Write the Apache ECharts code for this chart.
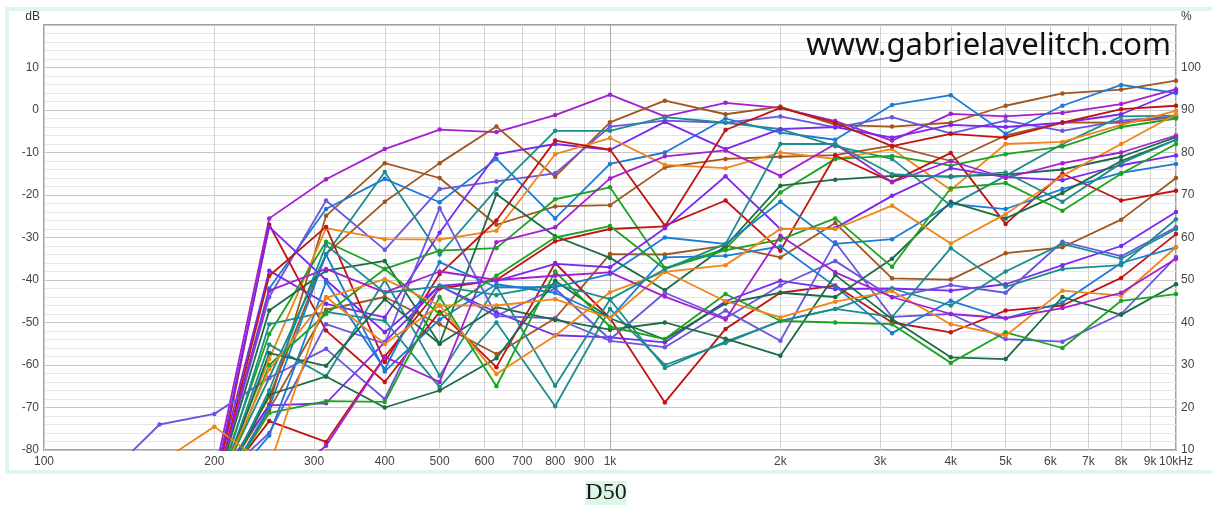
<!DOCTYPE html>
<html><head><meta charset="utf-8">
<script src="https://cdn.jsdelivr.net/npm/echarts@6/dist/echarts.min.js"></script>
<style>html,body{margin:0;padding:0;background:#fff;}#c{width:1212px;height:506px;}</style>
</head><body><div id="c"></div>
<script>
// Frequencies (Hz) of the 1/3-octave measurement points
const freqs = [125,160,200,250,315,400,500,630,800,1000,1250,1600,2000,2500,3150,4000,5000,6300,8000,10000];
// X tick labels (Hz)
const xTickValues = [100,200,300,400,500,600,700,800,900,1000,2000,3000,4000,5000,6000,7000,8000,9000,10000];
// Y ticks
const yMin = -80, yMax = 20, yStep = 10;
const pMin = 10, pMax = 110;

// Series values (dB) at each frequency
const s01 = [-100,-96,-86,-25.5,-16.3,-9.2,-4.6,-5.2,-1.2,3.6,-1.5,1.7,0.5,-2.6,-7.2,-0.9,-1.5,-0.7,1.4,4.9];
const s02 = [-100,-97,-90,-67.5,-33.9,-21.6,-12.5,-3.9,-15.7,-2.9,2.2,-1,0.8,-3.5,-3.9,-3,1,3.9,4.8,6.9];
const s03 = [-100,-97,-90,-69.2,-24.9,-12.5,-16,-27,-22.7,-22.4,-13.5,-11.5,-11,-10.6,-8.4,-12,-6,-2.9,-3,-1.7];
const s04 = [-100,-98,-92,-70.5,-47,-44,-50.4,-57.4,-49,-33.9,-34,-31.9,-34.7,-26.6,-39.6,-39.9,-33.7,-32.3,-25.8,-16];
const s05 = [-100,-96,-90,-42,-23.3,-16.2,-21.7,-11.5,-25.5,-12.7,-10,-2,-5.3,-7,1.2,3.5,-5.6,1,5.9,4];
const s06 = [-100,-95,-90,-44,-21.3,-32.9,-18.6,-16.8,-14.9,-3.9,-2.5,-3,-1.5,-4.1,-1.7,-5.5,-2.5,-4.9,-2.5,-1.5];
const s07 = [-100,-96,-90,-63,-34,-14.6,-34,-18.6,-4.9,-4.9,-1.7,-3,-4.5,-8.5,-11.5,-22.5,-15.5,-8,-1.5,-1.3];
const s08 = [-100,-95,-88,-37.8,-45.6,-48.8,-28.9,-10.4,-8,-9.4,-2.8,-9.2,-4.5,-4,-6.5,-3.5,-4,-3,-1,4.3];
const s09 = [-100,-96,-90,-58.6,-27.8,-30.4,-30.5,-28.4,-10.4,-6.6,-12.9,-13.7,-10,-11.5,-9.2,-18.8,-8,-7.5,-3.5,-0.2];
const s10 = [-100,-96,-90,-52.7,-31,-37.4,-33.1,-32.5,-21,-18.2,-37.2,-32.7,-19.4,-11.5,-10.8,-13.1,-10.4,-8.6,-4,-2];
const s11 = [-100,-96,-90,-47.2,-37.8,-35.5,-55,-19.8,-29.7,-34.8,-42.4,-32,-17.8,-16.4,-15.5,-15.6,-15.2,-14,-11,-6.4];
const s12 = [-100,-96,-90,-27,-51.9,-64,-47.5,-60.5,-36,-49,-68.8,-51.5,-43,-41.3,-50,-52.3,-47.2,-46,-39.5,-29.2];
const s13 = [-100,-96,-90,-39,-27.5,-59.3,-38.6,-26,-7.2,-9.3,-27.2,-21.3,-33.1,-10.7,-16.9,-10.1,-26.8,-15,-21.3,-19];
const s14 = [-100,-97,-90,-73.2,-78.1,-58,-42,-40,-30.9,-28,-27.4,-4.7,0.5,-3,-8.5,-5.6,-6.5,-3,0.2,1];
const s15 = [-100,-95,-88,-27.5,-40,-52.3,-41.4,-40.2,-36.2,-37,-27.8,-15.6,-28,-27.8,-20.2,-13.7,-15.8,-16.5,-13,-10.7];
const s16 = [-100,-95,-88,-69.5,-69,-54.6,-41.4,-47.6,-53,-53.5,-54.7,-45,-40.2,-42.1,-42,-42.5,-41,-36.5,-32,-24];
const s17 = [-88,-74,-71.5,-63,-56.2,-68,-41.3,-48.5,-49,-54.3,-55.8,-47.2,-54.3,-31.1,-48.7,-48,-53.9,-54.5,-48,-34.6];
const s18 = [-100,-95,-88,-76,-50.4,-55,-23.1,-48.4,-42,-54,-43,-49,-41.3,-35.5,-44.1,-41.2,-43,-31,-34.4,-27.6];
const s19 = [-100,-96,-92,-76.6,-40.5,-61,-35.8,-41.7,-41.7,-38.6,-30,-31.5,-21.6,-31.5,-30.4,-22.1,-23.3,-18.6,-14.8,-12.7];
const s20 = [-100,-97,-92,-70,-34,-61.5,-49.3,-41,-43,-49,-34.7,-34.3,-32.1,-41.5,-52.5,-44.9,-49,-45.3,-36,-32.3];
const s21 = [-100,-96,-92,-55.2,-62.7,-40,-62.5,-41.5,-64.9,-44.6,-60.7,-54.5,-49.7,-46.8,-48.7,-32.5,-41.6,-37.4,-36.5,-25.7];
const s22 = [-100,-96,-92,-50.4,-47.5,-49.6,-65.2,-50,-69.7,-46.8,-60,-54.8,-49.6,-46.8,-42,-46,-38,-31.5,-35,-28];
const s23 = [-100,-96,-92,-57.2,-60.2,-44.5,-55,-46.4,-49.4,-51.7,-50,-53.8,-57.8,-38.8,-49.2,-58.2,-58.6,-44,-48.2,-41];
const s24 = [-100,-96,-92,-67,-62.7,-70,-66,-58.4,-40.2,-49,-54,-45.5,-43,-44,-35,-21.6,-25.5,-19.5,-12,-7];
const s25 = [-100,-96,-92,-71.3,-68.5,-68.7,-44,-65,-38,-51,-53.9,-43.3,-49.6,-50,-50.4,-59.5,-52.3,-56,-44.9,-43.3];
const s26 = [-100,-96,-92,-60,-48,-37.4,-48,-39,-30,-27.3,-37.4,-33,-30.5,-25.5,-36.9,-18.4,-17.2,-23.7,-15,-8];
const s27 = [-100,-96,-90,-61,-44.2,-39.8,-46,-46,-44.5,-49,-38,-45,-48.8,-45.1,-42.6,-50.4,-53.1,-42.5,-43.7,-32.3];
const s28 = [-92,-83,-74.5,-84,-44,-55,-46,-62.1,-53.1,-42.9,-38.1,-36.5,-28,-28,-22.5,-31.4,-24.5,-15.5,-8,-1];
const s29 = [-100,-98,-95,-90,-79,-58.1,-64,-31.1,-27.6,-16.1,-10.9,-9.5,-15.5,-8,-17,-12,-16,-12.5,-10,-6];
const s30 = [-100,-96,-90,-42.5,-37.4,-42.9,-38,-40,-39,-38.2,-43.9,-49.3,-29.6,-38.2,-44,-48,-49,-46.6,-43,-35];
const s31 = [-100,-97,-92,-66,-31.8,-43,-41.5,-43.5,-41,-44.5,-37.5,-31.5,-8,-8,-15.1,-15.8,-14.7,-21.6,-12.5,-7];

const allSeries = [s01,s02,s03,s04,s05,s06,s07,s08,s09,s10,s11,s12,s13,s14,s15,s16,s17,s18,s19,s20,s21,s22,s23,s24,s25,s26,s27,s28,s29,s30,s31];

// Styles (kept apart from data)
const C = {P:'#a41fd0',BR:'#a0561d',B:'#1a7bd6',S:'#6a55e0',T:'#1d8c8c',V:'#7a28f0',O:'#f08519',G:'#1da31f',DG:'#1b6c45',R:'#c01414'};
const seriesColors = [C.P,C.BR,C.BR,C.BR,C.B,C.S,C.T,C.V,C.O,C.G,C.DG,C.R,C.R,C.R,C.V,C.V,C.S,C.S,C.B,C.B,C.T,C.T,C.DG,C.DG,C.G,C.G,C.O,C.O,C.P,C.P,C.T];

const lg = v => Math.log10(v);
const xTickPos = xTickValues.map(lg);
const vLineColors = xTickValues.map(v => v === 1000 ? '#a8a8a8' : '#d2d2d2');

const chart = echarts.init(document.getElementById('c'), null, {renderer:'canvas'});
chart.setOption({
  animation: false,
  backgroundColor: '#fff',
  title: {
    text: 'D50', left: 'center', top: 481, padding: 0,
    backgroundColor: '#dcf7e6',
    textStyle: {fontFamily: '"Liberation Serif", serif', fontSize: 24, fontWeight: 'normal', color: '#1a1a1a', lineHeight: 24}
  },
  grid: {left: 44, right: 36, top: 25, bottom: 56, show: true, borderColor: '#a0a0a0', borderWidth: 2, backgroundColor: '#fff'},
  xAxis: {
    type: 'value', min: lg(100), max: lg(10000),
    axisLine: {show: false},
    axisTick: {show: false, customValues: xTickPos},
    axisLabel: {
      customValues: xTickPos, color: '#444', fontSize: 12, fontFamily: '"Liberation Sans", Arial, sans-serif', margin: 6,
      formatter: v => { const f = Math.round(Math.pow(10, v)); if (f === 10000) return '10kHz'; return f >= 1000 ? (f/1000) + 'k' : String(f); }
    },
    splitLine: {show: true, lineStyle: {color: vLineColors, width: 1}}
  },
  yAxis: [{
    type: 'value', min: yMin, max: yMax, interval: yStep,
    axisLine: {show: false}, axisTick: {show: false},
    axisLabel: {color: '#444', fontSize: 12, fontFamily: '"Liberation Sans", Arial, sans-serif', margin: 5, formatter: v => v === yMax ? '' : String(v)},
    splitLine: {show: true, lineStyle: {color: '#c6c6c6', width: 1}},
    minorTick: {show: false, splitNumber: 5},
    minorSplitLine: {show: true, lineStyle: {color: '#e6e6e6', width: 1}}
  }, {
    type: 'value', position: 'right', min: pMin, max: pMax, interval: 10,
    axisLine: {show: false}, axisTick: {show: false}, splitLine: {show: false},
    axisLabel: {color: '#444', fontSize: 12, fontFamily: '"Liberation Sans", Arial, sans-serif', margin: 5, formatter: v => v === pMax ? '' : String(v)}
  }],
  graphic: [
    {type: 'rect', silent: true, z: 100, shape: {x: 7, y: 9, width: 1230, height: 463}, style: {fill: 'none', stroke: '#dcf7e6', lineWidth: 4}},
    {type: 'text', silent: true, z: 100, style: {text: 'dB', x: 40, y: 17, textAlign: 'right', textVerticalAlign: 'middle', font: '12px "Liberation Sans", Arial, sans-serif', fill: '#333'}},
    {type: 'text', silent: true, z: 100, style: {text: '%', x: 1181, y: 17, textAlign: 'left', textVerticalAlign: 'middle', font: '12px "Liberation Sans", Arial, sans-serif', fill: '#333'}},
    {type: 'text', silent: true, z: 100, style: {text: 'www.gabrielavelitch.com', x: 1171, y: 46, textAlign: 'right', textVerticalAlign: 'middle', font: '31px "Noto Sans", sans-serif', fill: '#111'}}
  ],
  series: allSeries.map((d, i) => ({
    type: 'line', yAxisIndex: 0, clip: true,
    data: d.map((v, j) => [lg(freqs[j]), v]),
    symbol: 'circle', symbolSize: 4.5, showAllSymbol: true,
    lineStyle: {width: 1.8, color: seriesColors[i]},
    itemStyle: {color: seriesColors[i]},
    emphasis: {disabled: true}
  }))
});
</script></body></html>
